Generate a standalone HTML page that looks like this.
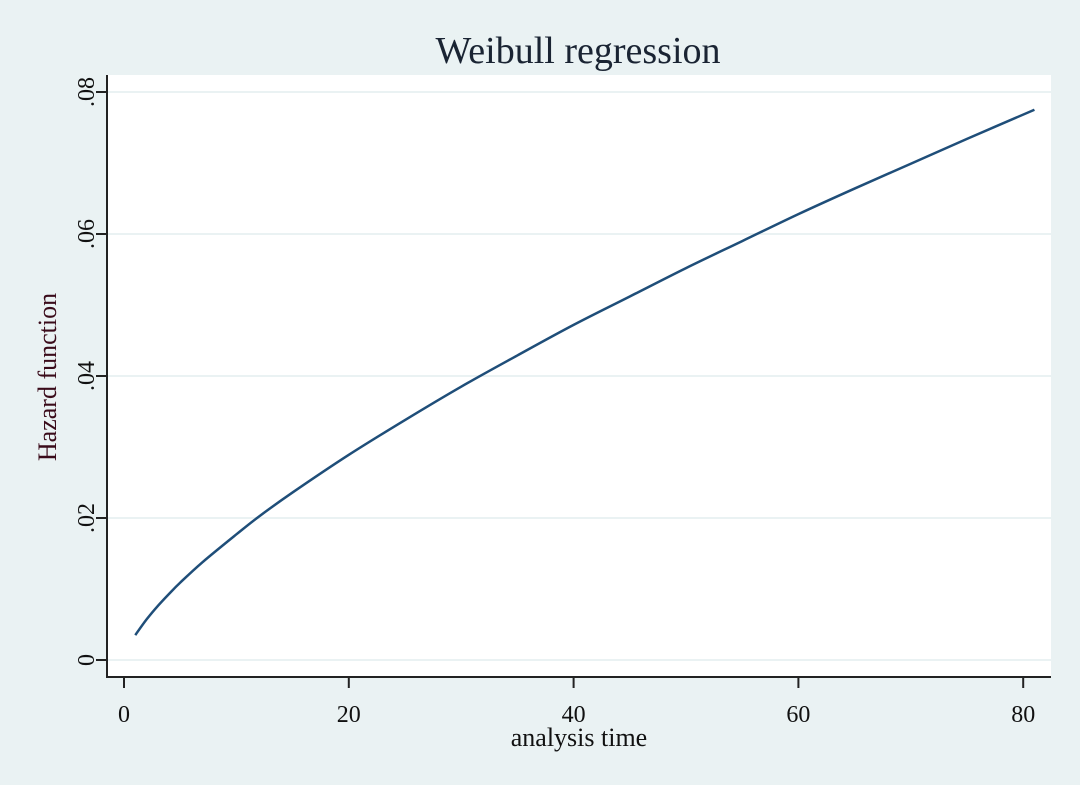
<!DOCTYPE html>
<html><head><meta charset="utf-8"><style>
body{margin:0;background:#eaf2f3;}
svg{display:block;font-family:"Liberation Serif",serif;}
</style></head><body>
<svg width="1080" height="785">
<rect x="0" y="0" width="1080" height="785" fill="#eaf2f3"/>
<rect x="107" y="75" width="944" height="602" fill="#fff"/>
<text x="578" y="63" font-size="38" text-anchor="middle" fill="#1a2433">Weibull regression</text>
<g id="grid"></g>
<g id="axes"></g>
<path id="curve" fill="none" stroke="#1f4e79" stroke-width="2.5"/>
<text transform="translate(56,377) rotate(-90)" font-size="26" text-anchor="middle" fill="#3a0b1a">Hazard function</text>
<text x="579" y="746" font-size="26" text-anchor="middle" fill="#111">analysis time</text>
</svg>
<script>
const times=[1,2,3,4,5,7,10,12,15,20,25,30,35,40,45,50,55,60,65,70,75,81];
const hazard=[.0035,.0057,.0076,.0093,.0109,.0138,.0177,.0202,.0236,.0289,.0338,.0385,.0429,.0472,.0512,.0552,.0590,.0628,.0664,.0699,.0734,.0775];
const xTicks=[0,20,40,60,80];
const yTicks=[0,.02,.04,.06,.08];
const yTickLabels=["0",".02",".04",".06",".08"];
const NS="http://www.w3.org/2000/svg";
const xs=t=>124+t*11.24;
const ys=v=>660-v*7100;
const grid=document.getElementById('grid'),axes=document.getElementById('axes');
function mk(tag,at,parent){const e=document.createElementNS(NS,tag);for(const k in at)e.setAttribute(k,at[k]);parent.appendChild(e);return e;}
yTicks.forEach((v,i)=>{
  const g=mk('line',{x1:107,x2:1051,y1:ys(v),y2:ys(v),stroke:'#eaf2f3','stroke-width':2},grid);
  
  
  const tk=mk('line',{x1:96,x2:107,y1:ys(v),y2:ys(v),stroke:'#222','stroke-width':2},axes);
  
  
  const t=mk('text',{transform:`translate(${94},${ys(v)}) rotate(-90)`,'font-size':24,'text-anchor':'middle',fill:'#111'},axes);
  t.textContent=yTickLabels[i];
  
  
});
xTicks.forEach(v=>{
  const tk=mk('line',{x1:xs(v),x2:xs(v),y1:677,y2:688,stroke:'#222','stroke-width':2},axes);
  
  
  const t=mk('text',{x:xs(v),y:722,'font-size':24,'text-anchor':'middle',fill:'#111'},axes);
  t.textContent=v;
  
  
});
const ya=mk('line',{x1:107,x2:107,y1:75,y2:678,stroke:'#222','stroke-width':2},axes);


const xa=mk('line',{x1:106,x2:1051,y1:677,y2:677,stroke:'#222','stroke-width':2},axes);


const P=times.map((t,i)=>[xs(t),ys(hazard[i])]);
let d=`M${P[0][0]},${P[0][1]}`;
for(let i=0;i<P.length-1;i++){
  const p0=P[Math.max(0,i-1)],p1=P[i],p2=P[i+1],p3=P[Math.min(P.length-1,i+2)];
  const c1=[p1[0]+(p2[0]-p0[0])/6,p1[1]+(p2[1]-p0[1])/6];
  const c2=[p2[0]-(p3[0]-p1[0])/6,p2[1]-(p3[1]-p1[1])/6];
  d+=` C${c1[0]},${c1[1]} ${c2[0]},${c2[1]} ${p2[0]},${p2[1]}`;
}
document.getElementById('curve').setAttribute('d',d);
</script>
</body></html>
